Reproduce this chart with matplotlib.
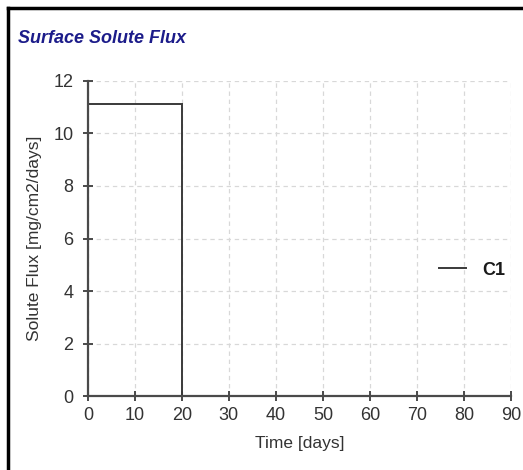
import numpy as np
import matplotlib.pyplot as plt
from matplotlib.lines import Line2D

# ----------------------------
# Data (C1 surface solute flux)
# ----------------------------
time_days = [0, 20, 20, 90]
flux_c1 = [11.1, 11.1, 0, 0]

x_ticks = [0, 10, 20, 30, 40, 50, 60, 70, 80, 90]
y_ticks = [0, 2, 4, 6, 8, 10, 12]

# ----------------------------
# Style
# ----------------------------
plt.rcParams.update({
    "font.family": ["Liberation Sans", "DejaVu Sans"],
    "font.size": 11,
})

axis_col = "#4a4a4a"
text_col = "#333333"

fig = plt.figure(figsize=(5.23, 4.70), dpi=100)
ax = fig.add_axes([0.168, 0.157, 0.809, 0.671])

ax.plot(time_days, flux_c1, color="#3a3a3a", linewidth=1.4, label="C1",
        solid_joinstyle="miter")

ax.set_xlim(0, 90)
ax.set_ylim(0, 12)
ax.set_xticks(x_ticks)
ax.set_yticks(y_ticks)

ax.grid(True, color="#d8d8d8", linestyle=(0, (3.5, 3)), linewidth=0.9)
ax.set_axisbelow(True)

for side in ["top", "right"]:
    ax.spines[side].set_visible(False)
for side in ["left", "bottom"]:
    ax.spines[side].set_color(axis_col)
    ax.spines[side].set_linewidth(1.6)

ax.tick_params(direction="inout", length=7, width=1.4, color=axis_col,
               labelsize=13, labelcolor=text_col)
ax.tick_params(axis="y", pad=7)
ax.tick_params(axis="x", pad=4)

ax.set_xlabel("Time [days]", fontsize=12.5, color=text_col, labelpad=9)
ax.set_ylabel("Solute Flux [mg/cm2/days]", fontsize=12.5, color=text_col,
              labelpad=8)

leg = ax.legend(loc="center right", bbox_to_anchor=(1.025, 0.40),
                frameon=False, handlelength=1.5, handletextpad=0.9,
                prop={"weight": "bold", "size": 13})
for t in leg.get_texts():
    t.set_color("#1a1a1a")

fig.text(0.034, 0.918, "Surface Solute Flux", fontsize=13, fontweight="bold",
         fontstyle="italic", color="#1c1c8a", va="center", ha="left")

# screenshot frame (top and left edges)
fig.add_artist(Line2D([0.015, 1.0], [0.982, 0.982], color="black",
                      linewidth=2.5, transform=fig.transFigure))
fig.add_artist(Line2D([0.0155, 0.0155], [0.0, 0.982], color="black",
                      linewidth=2.5, transform=fig.transFigure))

fig.savefig("out.png", dpi=100)
